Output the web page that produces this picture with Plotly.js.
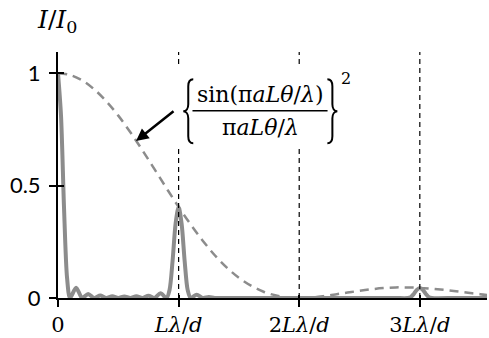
<!DOCTYPE html>
<html>
<head>
<meta charset="utf-8">
<script src="https://cdn.plot.ly/plotly-3.0.1.min.js"></script>
<style>html,body{margin:0;padding:0;background:#fff;}#chart{width:489px;height:338px;}</style>
</head>
<body>
<div id="chart"></div>
<script>
// ---- data ----
// horizontal axis in units of L*lambda/d, vertical axis I/I0
const gratingX = [0, 0.025, 0.05, 0.075, 0.1, 0.15, 0.2, 0.25, 0.3, 0.35, 0.4, 0.45, 0.5, 0.55, 0.6, 0.65, 0.7, 0.75, 0.8, 0.85, 0.9,
  0.925, 0.95, 0.975, 1.0, 1.025, 1.05, 1.075, 1.1, 1.15, 1.2, 1.25, 1.3, 1.4, 1.6, 1.8, 2.0, 2.2, 2.4, 2.6, 2.8, 2.9,
  2.925, 2.95, 2.975, 3.0, 3.025, 3.05, 3.075, 3.1, 3.3, 3.56];
const gratingY = [1, 0.81, 0.4, 0.09, 0, 0.046, 0, 0.018, 0, 0.011, 0, 0.008, 0, 0.007, 0, 0.008, 0, 0.01, 0, 0.021, 0,
  0.036, 0.165, 0.33, 0.405, 0.33, 0.165, 0.036, 0, 0.015, 0, 0.004, 0, 0, 0, 0, 0, 0, 0, 0, 0, 0,
  0.004, 0.018, 0.036, 0.045, 0.036, 0.018, 0.004, 0, 0, 0];
const envelopeX = [0, 0.1, 0.2, 0.3, 0.4, 0.5, 0.6, 0.7, 0.8, 0.9, 1.0, 1.1, 1.2, 1.3, 1.4, 1.5, 1.6, 1.7, 1.8, 1.9, 2.0,
  2.1, 2.2, 2.3, 2.4, 2.5, 2.6, 2.7, 2.8, 2.9, 3.0, 3.1, 3.2, 3.3, 3.4, 3.5, 3.56];
const envelopeY = [1, 0.992, 0.968, 0.928, 0.875, 0.811, 0.737, 0.657, 0.573, 0.488, 0.405, 0.327, 0.255, 0.19, 0.135, 0.09, 0.055, 0.029, 0.012, 0.003, 0,
  0.002, 0.008, 0.016, 0.024, 0.032, 0.039, 0.044, 0.047, 0.047, 0.045, 0.041, 0.036, 0.03, 0.023, 0.017, 0.013];
const xTickVals = [0, 1, 2, 3];
const xTickText = ['0', '<i>Lλ</i>/<i>d</i>', '2<i>Lλ</i>/<i>d</i>', '3<i>Lλ</i>/<i>d</i>'];
const orderLines = [1, 2, 3];
const yTickVals = [0, 0.5, 1];
const yTickText = ['0', '0.5', '1'];
const yTitle = '<i>I</i>/<i>I</i><sub>0</sub>';
const numeratorText = 'sin(π<i>aLθ</i>/<i>λ</i>)';
const denominatorText = 'π<i>aLθ</i>/<i>λ</i>';
const exponentText = '2';

const GRAY = '#8c8c8c';
const SERIF = 'DejaVu Serif, Liberation Serif, serif';

const traces = [
  {x: envelopeX, y: envelopeY, type: 'scatter', mode: 'lines', line: {color: GRAY, width: 2.5, dash: '9px,6px', shape: 'spline', smoothing: 1}, hoverinfo: 'skip'},
  {x: gratingX, y: gratingY, type: 'scatter', mode: 'lines', line: {color: GRAY, width: 4, shape: 'spline', smoothing: 0.8}, hoverinfo: 'skip'},
  {x: [], y: [], xaxis: 'x2', yaxis: 'y2', type: 'scatter', mode: 'lines', hoverinfo: 'skip'}
];

const xr = [0, 3.557], yr = [0, 1.094];
const baseAxis = {showgrid: false, zeroline: false, showline: true, linecolor: '#000', linewidth: 2,
  ticks: 'outside', ticklen: 7, tickwidth: 2, tickcolor: '#000', fixedrange: true};

const shapes = [];
orderLines.forEach(v => shapes.push({type: 'line', xref: 'x', yref: 'paper', x0: v, x1: v, y0: 0, y1: 1,
  line: {color: '#000', width: 1.2, dash: '5px,4px'}, layer: 'above'}));
// white box behind the formula
shapes.push({type: 'rect', xref: 'x', yref: 'y', x0: 0.91, x1: 2.47, y0: 0.665, y1: 1.03,
  fillcolor: '#fff', line: {width: 0}, layer: 'above'});
// fraction bar
shapes.push({type: 'line', xref: 'x', yref: 'y', x0: 1.115, x1: 2.235, y0: 0.833, y1: 0.833,
  line: {color: '#000', width: 1.6}, layer: 'above'});
// braces drawn in pixels around an anchor
const lb = 'M 5,32 C 1,32 0,29 0,25 L 0,7 C 0,3 -2,0 -5,0 C -2,0 0,-3 0,-7 L 0,-25 C 0,-29 1,-32 5,-32';
const rb = 'M -5,32 C -1,32 0,29 0,25 L 0,7 C 0,3 2,0 5,0 C 2,0 0,-3 0,-7 L 0,-25 C 0,-29 -1,-32 -5,-32';
shapes.push({type: 'path', xref: 'x', yref: 'y', xsizemode: 'pixel', ysizemode: 'pixel', xanchor: 1.08, yanchor: 0.83,
  path: lb, line: {color: '#000', width: 2}, fillcolor: 'rgba(0,0,0,0)', layer: 'above'});
shapes.push({type: 'path', xref: 'x', yref: 'y', xsizemode: 'pixel', ysizemode: 'pixel', xanchor: 2.275, yanchor: 0.83,
  path: rb, line: {color: '#000', width: 2}, fillcolor: 'rgba(0,0,0,0)', layer: 'above'});

const annotations = [
  {xref: 'paper', yref: 'paper', x: -0.002, y: 1.125, text: yTitle, showarrow: false, xanchor: 'center', yanchor: 'middle',
    font: {family: SERIF, size: 25, color: '#000'}},
  {xref: 'x', yref: 'y', x: 1.675, y: 0.905, text: numeratorText, showarrow: false, xanchor: 'center', yanchor: 'middle',
    font: {family: SERIF, size: 22, color: '#000'}},
  {xref: 'x', yref: 'y', x: 1.675, y: 0.758, text: denominatorText, showarrow: false, xanchor: 'center', yanchor: 'middle',
    font: {family: SERIF, size: 22, color: '#000'}},
  {xref: 'x', yref: 'y', x: 2.39, y: 0.975, text: exponentText, showarrow: false, xanchor: 'center', yanchor: 'middle',
    font: {family: SERIF, size: 16, color: '#000'}},
  {xref: 'x', yref: 'y', x: 0.647, y: 0.698, text: '', showarrow: true, ax: 39, ay: -31, arrowhead: 2, arrowsize: 1,
    arrowwidth: 2.5, arrowcolor: '#000', standoff: 0}
];

const layout = {
  width: 489, height: 338,
  margin: {l: 58, r: 2, t: 52, b: 40, pad: 0},
  paper_bgcolor: '#fff', plot_bgcolor: '#fff',
  showlegend: false,
  xaxis: Object.assign({}, baseAxis, {range: xr, tickmode: 'array', tickvals: xTickVals, ticktext: xTickText,
    tickfont: {family: SERIF, size: 21, color: '#000'}, ticklabelstandoff: 0}),
  yaxis: Object.assign({}, baseAxis, {range: yr, tickmode: 'array', tickvals: yTickVals, ticktext: yTickText,
    tickfont: {family: 'Lato, Noto Sans, sans-serif', size: 22, color: '#000'}, ticklabelstandoff: 4}),
  xaxis2: Object.assign({}, baseAxis, {overlaying: 'x', anchor: 'y', side: 'bottom', range: xr, tickmode: 'array', tickvals: xTickVals,
    ticks: 'inside', ticklen: 3, showline: false, showticklabels: false}),
  yaxis2: Object.assign({}, baseAxis, {overlaying: 'y', anchor: 'x', side: 'left', range: yr, tickmode: 'array', tickvals: yTickVals,
    ticks: 'inside', ticklen: 6, showline: false, showticklabels: false}),
  shapes: shapes,
  annotations: annotations
};

Plotly.newPlot('chart', traces, layout, {staticPlot: true, displayModeBar: false});
</script>
</body>
</html>
